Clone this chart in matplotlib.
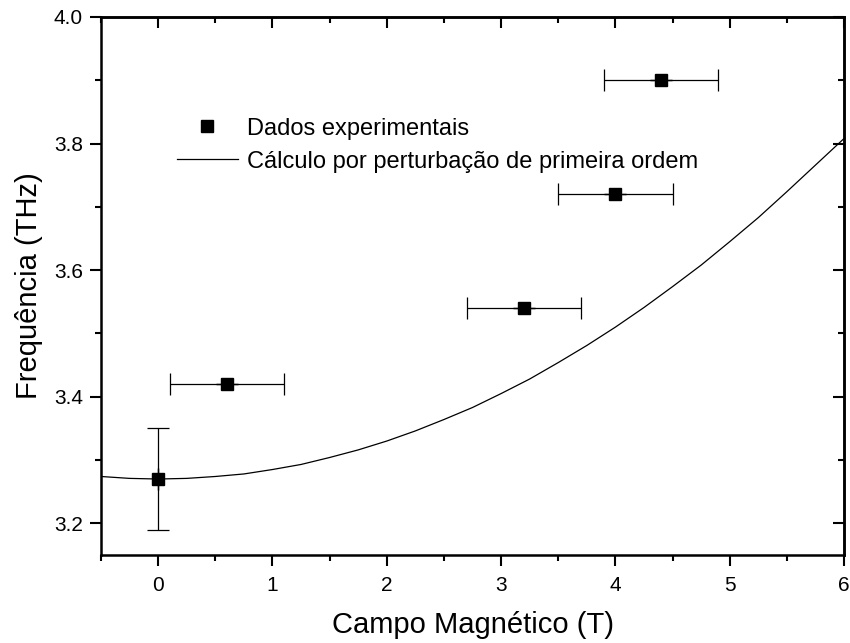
import matplotlib
matplotlib.use("Agg")
import matplotlib.pyplot as plt
from matplotlib.ticker import MultipleLocator

plt.rcParams["font.family"] = ["Liberation Sans", "DejaVu Sans"]

# experimental points
campo = [0.0, 0.6, 3.2, 4.0, 4.4]
freq = [3.27, 3.42, 3.54, 3.72, 3.90]
erro_campo = [0.0, 0.5, 0.5, 0.5, 0.5]
erro_freq = [0.08, 0.0, 0.0, 0.0, 0.0]

# first-order perturbation curve
campo_teo = [-0.5, -0.25, 0.0, 0.25, 0.5, 0.75, 1.0, 1.25, 1.5, 1.75, 2.0, 2.25, 2.5,
             2.75, 3.0, 3.25, 3.5, 3.75, 4.0, 4.25, 4.5, 4.75, 5.0, 5.25, 5.5, 5.75, 6.0]
freq_teo = [3.274, 3.271, 3.270, 3.271, 3.274, 3.278, 3.285, 3.293, 3.304, 3.316, 3.330,
            3.346, 3.364, 3.383, 3.405, 3.428, 3.454, 3.481, 3.510, 3.541, 3.574, 3.608,
            3.645, 3.683, 3.724, 3.766, 3.808]

fig = plt.figure(figsize=(8.5, 6.43), dpi=100)
ax = fig.add_axes([0.1188, 0.1369, 0.8742, 0.8367])

ax.plot(campo_teo, freq_teo, color="black", lw=0.9,
        label="Cálculo por perturbação de primeira ordem")
ax.errorbar(campo, freq, xerr=erro_campo, yerr=erro_freq, fmt="none",
            ecolor="black", elinewidth=0.9, capsize=8, capthick=0.9)
ax.plot(campo, freq, "s", color="black", ms=9, ls="none", label="Dados experimentais")

ax.set_xlim(-0.5, 6)
ax.set_ylim(3.15, 4.0)
ax.xaxis.set_major_locator(MultipleLocator(1))
ax.xaxis.set_minor_locator(MultipleLocator(0.5))
ax.yaxis.set_major_locator(MultipleLocator(0.2))
ax.yaxis.set_minor_locator(MultipleLocator(0.1))
ax.tick_params(which="major", direction="out", length=8, width=1.5, labelsize=15)
ax.tick_params(which="minor", direction="out", length=4, width=1.5)
ax.tick_params(axis="x", which="major", pad=7)
ax.tick_params(axis="y", which="major", pad=5)
for s in ax.spines.values():
    s.set_linewidth(1.8)

top = ax.secondary_xaxis("top")
top.xaxis.set_major_locator(MultipleLocator(1))
top.xaxis.set_minor_locator(MultipleLocator(0.5))
top.tick_params(which="major", direction="in", length=8, width=1.5, labeltop=False)
top.tick_params(which="minor", direction="in", length=4, width=1.5)
right = ax.secondary_yaxis("right")
right.yaxis.set_major_locator(MultipleLocator(0.2))
right.yaxis.set_minor_locator(MultipleLocator(0.1))
right.tick_params(which="major", direction="in", length=8, width=1.5, labelright=False)
right.tick_params(which="minor", direction="in", length=4, width=1.5)
for sa in (top, right):
    for s in sa.spines.values():
        s.set_linewidth(1.8)

ax.set_xlabel("Campo Magnético (T)", fontsize=21, labelpad=12)
ax.set_ylabel("Frequência (THz)", fontsize=21, labelpad=8)

h, l = ax.get_legend_handles_labels()
ax.legend(h[::-1], l[::-1], loc="upper left", bbox_to_anchor=(0.102, 0.813),
          frameon=False, fontsize=17, handlelength=2.58, handletextpad=0.38,
          labelspacing=0.47, borderpad=0, borderaxespad=0)

fig.savefig("out.png", dpi=100)
